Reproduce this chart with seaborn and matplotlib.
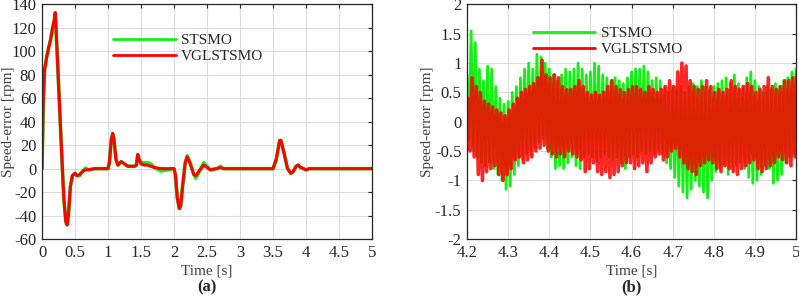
import numpy as np
import pandas as pd
import matplotlib
matplotlib.use("Agg")
import matplotlib.pyplot as plt
from matplotlib.ticker import FuncFormatter, MultipleLocator
import seaborn as sns

# ---------------- data: panel (a) ----------------
t_a = [0, 0.02, 0.04, 0.05, 0.07, 0.10, 0.13, 0.16, 0.19, 0.20,
       0.22, 0.26, 0.30, 0.33, 0.36, 0.38, 0.40, 0.43, 0.46, 0.50,
       0.53, 0.57, 0.62, 0.66, 0.70, 0.80, 0.90, 1.00, 1.02, 1.05,
       1.07, 1.09, 1.12, 1.15, 1.20, 1.25, 1.30, 1.40, 1.43, 1.45,
       1.47, 1.50, 1.55, 1.60, 1.65, 1.70, 1.80, 1.90, 2.00, 2.02,
       2.05, 2.08, 2.10, 2.13, 2.17, 2.20, 2.24, 2.30, 2.33, 2.38,
       2.45, 2.50, 2.55, 2.65, 2.70, 2.75, 2.85, 3.00, 3.50, 3.55,
       3.60, 3.62, 3.66, 3.72, 3.77, 3.80, 3.85, 3.88, 3.92, 4.00,
       4.05, 4.50, 5.00]
vgl_a = [0, 60, 85, 88, 95, 103, 110, 120, 128, 133,
         110, 60, 10, -25, -45, -48, -40, -15, -6, -4,
         -6, -5, -2, -1, -1, 0, 0, 0, 5, 25,
         30, 25, 8, 3, 6, 4, 2, 2, 3, 12,
         8, 4, 3, 3, 2, 1, 0, 0, 0, -5,
         -25, -34, -32, -15, 5, 10, 5, -5, -6, -2,
         3, 1, -1, 0, 1, 0, 0, 0, 0, 8,
         24, 24, 15, 0, -4, -3, 2, 3, 1, -1,
         0, 0, 0]
stsmo_a = [0, 60, 85, 88, 95, 103, 110, 120, 128, 133,
           110, 60, 10, -25, -45, -48, -40, -15, -6, -4,
           -6, -6, -2, 0.5, -1, 0, 0, 0, 5, 25,
           30, 25, 8, 3, 6, 4, 2, 2, 3, 12,
           9, 5, 5, 5, 4, 1, -2, -1, 0, -5,
           -25, -34, -32, -15, 5, 11, 6, -5, -8, -3,
           5, 2, -1, 0, 2, 0, 0, 0, 0, 8,
           24, 24, 15, 0, -4, -3, 2, 3, 1, -1,
           0, 0, 0]

# ---------------- data: panel (b) (peak / trough per 0.01 s) ----------------
t_b_start, t_b_step = 4.20, 0.01
stsmo_upper = [0.80, 1.55, 1.35, 0.90, 0.70, 0.95, 0.90, 0.60, 0.40, 0.30,
               0.35, 0.50, 0.60, 0.75, 0.90, 1.00, 0.90, 1.15, 1.10, 1.00,
               0.90, 0.80, 0.70, 0.80, 0.90, 0.85, 0.90, 1.00, 0.90, 0.80,
               0.85, 1.00, 0.95, 0.80, 0.75, 0.70, 0.75, 0.70, 0.65, 0.75,
               0.85, 0.90, 0.90, 0.95, 0.85, 0.70, 0.75, 0.70, 0.60, 0.50,
               0.60, 0.55, 0.60, 0.50, 0.60, 0.65, 0.60, 0.70, 0.60, 0.55,
               0.60, 0.65, 0.70, 0.75, 0.65, 0.80, 0.65, 0.60, 0.75, 0.85,
               0.70, 0.60, 0.50, 0.60, 0.55, 0.65, 0.60, 0.70, 0.75, 0.85,
               0.90]
stsmo_lower = [-0.30, -0.50, -0.60, -0.70, -0.75, -0.70, -0.80, -0.90, -1.00, -1.15,
               -1.10, -0.90, -0.75, -0.65, -0.55, -0.50, -0.45, -0.35, -0.30, -0.45,
               -0.60, -0.80, -0.75, -0.80, -0.70, -0.60, -0.75, -0.80, -0.60, -0.55,
               -0.60, -0.65, -0.60, -0.55, -0.60, -0.65, -0.60, -0.70, -0.80, -0.60,
               -0.55, -0.60, -0.50, -0.55, -0.50, -0.55, -0.50, -0.55, -0.70, -0.80,
               -0.95, -1.10, -1.20, -1.30, -1.15, -1.00, -1.10, -1.20, -1.30, -1.00,
               -0.85, -0.80, -0.75, -0.90, -0.80, -0.75, -0.70, -0.80, -0.95, -1.05,
               -1.00, -0.90, -0.75, -0.80, -1.05, -1.00, -0.90, -0.70, -0.60, -0.55,
               -0.50]
vgl_upper = [0.40, 0.75, 0.60, 0.50, 0.35, 0.30, 0.25, 0.20, 0.15, 0.10,
             0.20, 0.30, 0.40, 0.50, 0.55, 0.60, 0.65, 0.75, 1.05, 0.80,
             0.75, 0.80, 0.75, 0.60, 0.55, 0.55, 0.60, 0.70, 0.60, 0.50,
             0.45, 0.50, 0.45, 0.50, 0.60, 0.70, 0.60, 0.55, 0.50, 0.55,
             0.60, 0.60, 0.55, 0.50, 0.60, 0.55, 0.50, 0.55, 0.60, 0.70,
             0.60, 0.85, 1.00, 0.95, 0.70, 0.60, 0.55, 0.60, 0.70, 0.60,
             0.50, 0.55, 0.50, 0.55, 0.70, 0.60, 0.55, 0.60, 0.65, 0.60,
             0.50, 0.55, 0.60, 0.75, 0.60, 0.55, 0.60, 0.70, 0.70, 0.75,
             0.80]
vgl_lower = [-0.50, -0.60, -0.90, -1.00, -0.85, -0.80, -0.75, -0.90, -1.00, -0.90,
             -0.80, -0.65, -0.60, -0.70, -0.65, -0.60, -0.50, -0.45, -0.40, -0.50,
             -0.55, -0.60, -0.55, -0.60, -0.50, -0.55, -0.60, -0.65, -0.85, -0.80,
             -0.70, -0.85, -0.90, -0.85, -0.95, -0.90, -0.85, -0.75, -0.70, -0.70,
             -0.80, -0.75, -0.70, -0.85, -0.70, -0.60, -0.55, -0.65, -0.60, -0.50,
             -0.45, -0.60, -0.70, -0.80, -0.85, -0.90, -0.75, -0.70, -0.65, -0.70,
             -0.80, -0.85, -0.75, -0.80, -0.85, -0.90, -0.80, -0.75, -0.70, -0.65,
             -0.80, -0.85, -0.80, -0.75, -0.70, -0.60, -0.65, -0.70, -0.75, -0.60,
             -0.55]

labels = ["STSMO", "VGLSTSMO"]
c_green = "#14f014"
c_red = "#ff0000"


def zigzag(upper, lower, offset):
    t, v = [], []
    for i, (u, l) in enumerate(zip(upper, lower)):
        t += [t_b_start + i * t_b_step + offset, t_b_start + i * t_b_step + offset + t_b_step / 2]
        v += [u, l]
    return pd.DataFrame({"t": t, "v": v})


# ---------------- style ----------------
sns.set_style("whitegrid")
plt.rcParams["font.family"] = ["Liberation Serif", "DejaVu Serif"]
plt.rcParams["axes.edgecolor"] = "#262626"
plt.rcParams["grid.color"] = "#dcdcdc"

fig = plt.figure(figsize=(7.99, 2.98), dpi=100)
ax1 = fig.add_axes([0.0526, 0.198, 0.413, 0.787])
ax2 = fig.add_axes([0.5845, 0.198, 0.4118, 0.787])

df_sa = pd.DataFrame({"t": t_a, "v": stsmo_a})
df_va = pd.DataFrame({"t": t_a, "v": vgl_a})
sns.lineplot(data=df_sa, x="t", y="v", color=c_green, lw=2.6, ax=ax1,
             estimator=None, sort=False, label=labels[0])
sns.lineplot(data=df_va, x="t", y="v", color=c_red, lw=2.2, ax=ax1,
             estimator=None, sort=False, label=labels[1])

df_sb = zigzag(stsmo_upper, stsmo_lower, 0.0)
df_vb = zigzag(vgl_upper, vgl_lower, 0.0025)
sns.lineplot(data=df_sb, x="t", y="v", color=c_green, lw=2.0, ax=ax2,
             estimator=None, sort=False, label=labels[0])
sns.lineplot(data=df_vb, x="t", y="v", color=c_red, lw=2.6, alpha=0.85, ax=ax2,
             estimator=None, sort=False, label=labels[1])

fmt = FuncFormatter(lambda v, p: ("%g" % round(v, 6)))

ax1.set_xlim(0, 5)
ax1.set_ylim(-60, 140)
ax1.xaxis.set_major_locator(MultipleLocator(0.5))
ax1.yaxis.set_major_locator(MultipleLocator(20))
ax2.set_xlim(4.2, 5.0)
ax2.set_ylim(-2, 2)
ax2.xaxis.set_major_locator(MultipleLocator(0.1))
ax2.yaxis.set_major_locator(MultipleLocator(0.5))

legend_pos = {ax1: (0.215, 0.875), ax2: (0.2, 0.905)}
ylabel_x = {ax1: -0.103, ax2: -0.119}
for ax in (ax1, ax2):
    ax.xaxis.set_major_formatter(fmt)
    ax.yaxis.set_major_formatter(fmt)
    ax.tick_params(direction="in", length=3, width=0.8, top=True, right=True,
                   labelsize=12, colors="#262626")
    ax.tick_params(axis="x", pad=4.5)
    ax.tick_params(axis="y", pad=4)
    ax.grid(True, color="#dcdcdc", lw=0.8)
    for s in ax.spines.values():
        s.set_visible(True)
        s.set_color("#262626")
        s.set_linewidth(0.9)
    ax.set_xlabel("Time [s]", fontsize=11, color="#404040")
    ax.set_ylabel("Speed-error [rpm]", fontsize=11, color="#404040")
    ax.xaxis.set_label_coords(0.5, -0.135)
    ax.yaxis.set_label_coords(ylabel_x[ax], 0.5)
    ax.xaxis.label.set_va("center")
    ax.yaxis.label.set_va("center")
    leg = ax.legend(loc="upper left", bbox_to_anchor=legend_pos[ax], frameon=False,
                    fontsize=11, handlelength=4.1, handletextpad=0.35,
                    labelspacing=0.15, borderaxespad=0, borderpad=0)
    for h in leg.get_lines():
        h.set_linewidth(2)
        h.set_alpha(1)

fig.text(207 / 799, 1 - 287 / 298, "(a)", ha="center", va="center",
         fontsize=12, fontweight="bold")
fig.text(631 / 799, 1 - 287 / 298, "(b)", ha="center", va="center",
         fontsize=12, fontweight="bold")

fig.savefig("out.png", dpi=100)
